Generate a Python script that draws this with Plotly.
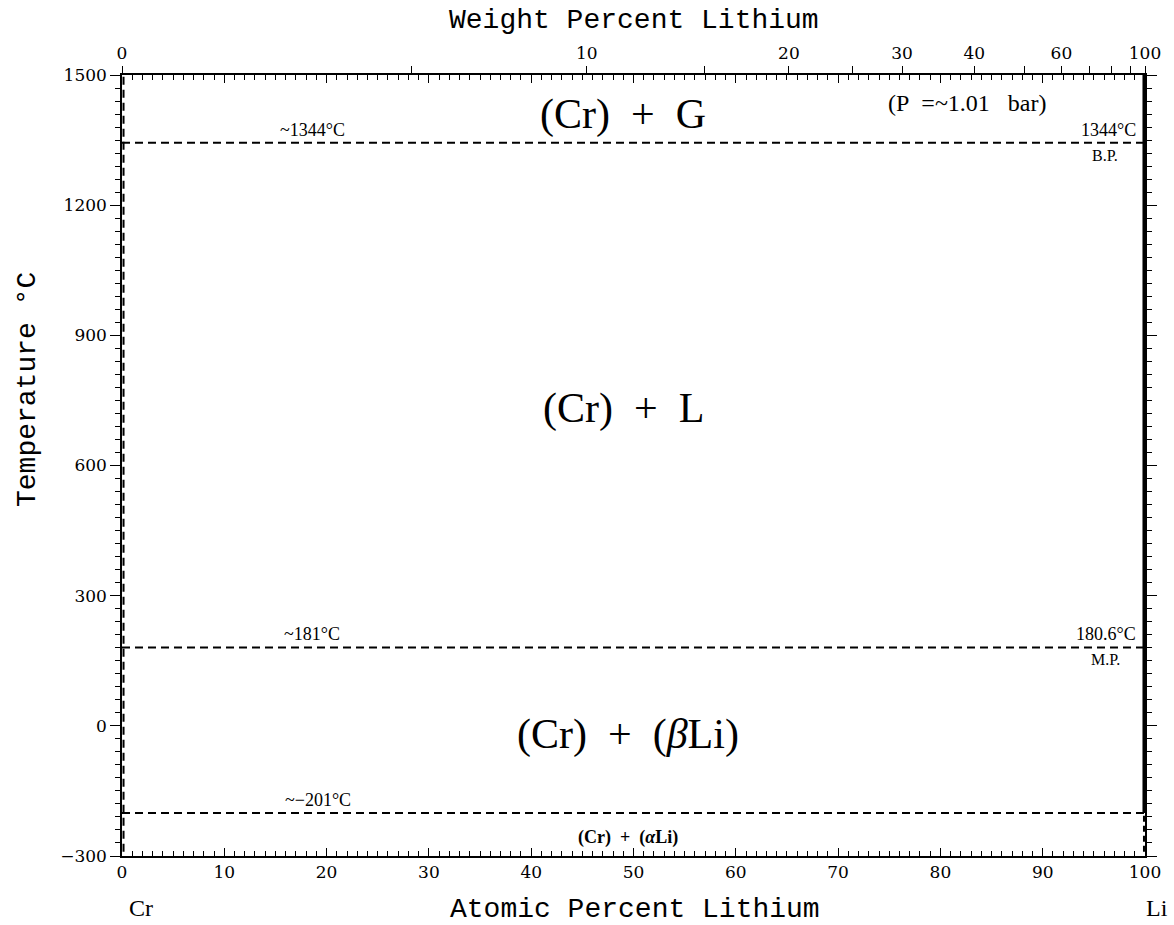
import plotly.graph_objects as go

# ---- data ----
M_LI = 6.941
M_CR = 51.996

boiling_point = 1344
melting_point = 180.6
transition = -201

wt_tick_values = [0, 5, 10, 15, 20, 25, 30, 40, 50, 60, 70, 80, 90, 100]
wt_tick_labels = ['0', '', '10', '', '20', '', '30', '40', '', '60', '', '', '', '100']

at_tick_values = [0, 10, 20, 30, 40, 50, 60, 70, 80, 90, 100]
temp_tick_values = [-300, 0, 300, 600, 900, 1200, 1500]

region_labels = ['(Cr)&nbsp;&nbsp;+&nbsp;&nbsp;G', '(Cr)&nbsp;&nbsp;+&nbsp;&nbsp;L',
                 '(Cr)&nbsp;&nbsp;+&nbsp;&nbsp;(<i>β</i>Li)']
region_x = [49, 49, 49.5]
region_y = [1408, 732, -21]

line_labels_left = ['~1344°C', '~181°C', '~−201°C']
line_labels_left_x = [18.6, 18.6, 19.2]
line_labels_right = ['1344°C', '180.6°C']
line_labels_right_y = [boiling_point, melting_point]
point_names = ['B.P.', 'M.P.']


def wt_to_at(w):
    if w >= 100:
        return 100.0
    a = w / M_LI
    b = (100 - w) / M_CR
    return 100 * a / (a + b)


wt_tick_pos = [wt_to_at(w) for w in wt_tick_values]

fig = go.Figure()

dash = '8px,5px'
for T in [boiling_point, melting_point, transition]:
    fig.add_trace(go.Scatter(x=[0, 100], y=[T, T], mode='lines',
                             line=dict(color='black', width=2, dash=dash),
                             hoverinfo='skip', showlegend=False))
fig.add_trace(go.Scatter(x=[0.15, 0.15], y=[-290, 1500], mode='lines',
                         line=dict(color='black', width=2, dash=dash),
                         hoverinfo='skip', showlegend=False))
fig.add_trace(go.Scatter(x=[99.9, 99.9], y=[transition, 1500], mode='lines',
                         line=dict(color='black', width=3),
                         hoverinfo='skip', showlegend=False))
fig.add_trace(go.Scatter(x=[99.9, 99.9], y=[-290, transition], mode='lines',
                         line=dict(color='black', width=2, dash='6px,4px'),
                         hoverinfo='skip', showlegend=False))
fig.add_trace(go.Scatter(x=[0, 100], y=[None, None], xaxis='x2', mode='lines',
                         showlegend=False, hoverinfo='skip'))

serif = 'DejaVu Serif'
lserif = 'Liberation Serif'
mono = 'Liberation Mono'

annotations = []
for t, x, y in zip(region_labels, region_x, region_y):
    annotations.append(dict(x=x, y=y, text=t, showarrow=False,
                            font=dict(family=lserif, size=42, color='black')))
annotations.append(dict(x=82.6, y=1435, text='(P&nbsp;&nbsp;=~1.01&nbsp;&nbsp;&nbsp;bar)',
                        showarrow=False,
                        font=dict(family=lserif, size=24, color='black')))
annotations.append(dict(x=49.5, y=-258, text='<b>(Cr)&nbsp;&nbsp;+&nbsp;&nbsp;(<i>α</i>Li)</b>',
                        showarrow=False,
                        font=dict(family=lserif, size=18, color='black')))
for t, x, T in zip(line_labels_left, line_labels_left_x,
                   [boiling_point, melting_point, transition]):
    annotations.append(dict(x=x, y=T, text=t, showarrow=False, yanchor='bottom',
                            yshift=1, font=dict(family=lserif, size=18, color='black')))
for t, T, p in zip(line_labels_right, line_labels_right_y, point_names):
    annotations.append(dict(x=99.3, y=T, text=t, showarrow=False, xanchor='right',
                            yanchor='bottom', yshift=1,
                            font=dict(family=lserif, size=18, color='black')))
    annotations.append(dict(x=96.1, y=T, text=p, showarrow=False, xanchor='center',
                            yanchor='top', yshift=-2,
                            font=dict(family=lserif, size=16, color='black')))
fig.update_layout(annotations=annotations)

paper_notes = [
    ('Cr', 141, 908, lserif, 24, 0),
    ('Li', 1157, 908, lserif, 24, 0),
    ('Atomic Percent Lithium', 635, 909, mono, 28, 0),
    ('Weight Percent Lithium', 634, 20, mono, 28, 0),
    ('Temperature °C', 27, 390, mono, 28, -90),
]
W, H = 1174, 925
L, R, T_, B = 122, 29, 75, 69
pw, ph = W - L - R, H - T_ - B
for text, px, py, fam, sz, ang in paper_notes:
    fig.add_annotation(x=(px - L) / pw, y=(H - B - py) / ph, xref='paper', yref='paper',
                       text=text, showarrow=False, textangle=ang, borderpad=0,
                       xanchor='center', yanchor='middle',
                       font=dict(family=fam, size=sz, color='black'))

fig.update_layout(
    width=W, height=H,
    margin=dict(l=L, r=R, t=T_, b=B),
    plot_bgcolor='white', paper_bgcolor='white',
    showlegend=False,
    xaxis=dict(range=[0, 100], tickvals=at_tick_values, ticks='inside', ticklen=8,
               tickwidth=1, tickcolor='black', automargin=False,
               minor=dict(dtick=1, ticks='inside', ticklen=5, tickcolor='black', tickwidth=1),
               showline=True, linecolor='black', linewidth=1.5, mirror='ticks',
               showgrid=False, zeroline=False,
               tickfont=dict(family=serif, size=17, color='black')),
    xaxis2=dict(range=[0, 100], overlaying='x', side='top', tickvals=wt_tick_pos,
                ticktext=wt_tick_labels, ticks='outside', ticklen=8, tickwidth=1,
                tickcolor='black', showline=False, showgrid=False, zeroline=False,
                automargin=False,
                tickfont=dict(family=serif, size=17, color='black')),
    yaxis=dict(range=[-300, 1500], tickvals=temp_tick_values, ticks='outside', ticklen=10,
               tickwidth=1, tickcolor='black', automargin=False,
               minor=dict(dtick=30, ticks='outside', ticklen=5, tickcolor='black', tickwidth=1),
               showline=True, linecolor='black', linewidth=1.5, mirror='ticks',
               showgrid=False, zeroline=False,
               tickfont=dict(family=serif, size=17, color='black')),
)

fig.write_html('out.html', config={'displayModeBar': False},
               post_script="document.body.style.margin='0px';document.body.style.overflow='hidden';")
